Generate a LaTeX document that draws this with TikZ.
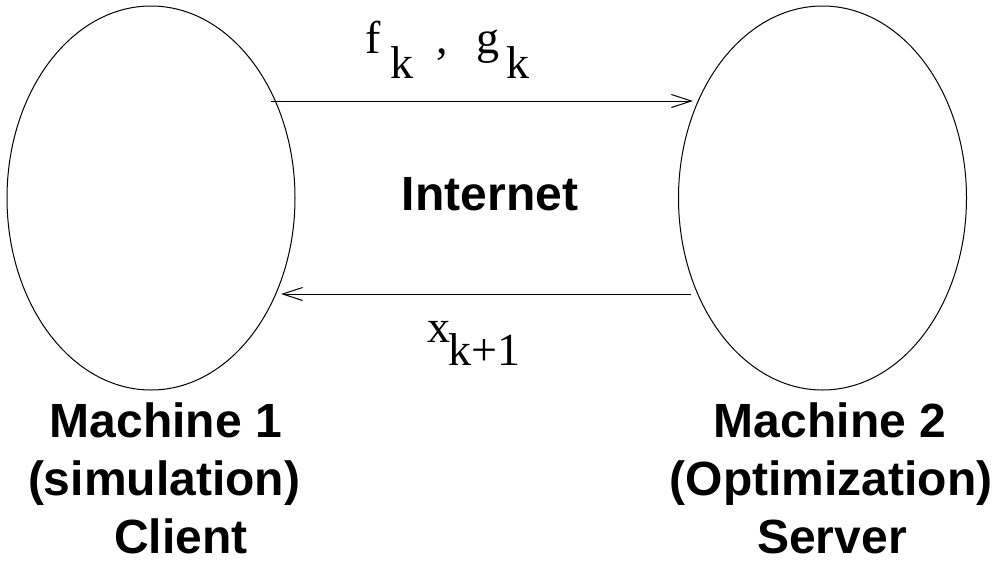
\documentclass[tikz,border=0pt]{standalone}
\usepackage{fontspec}
\setmainfont{Liberation Serif}
\setsansfont{Liberation Sans}
\usetikzlibrary{arrows.meta,shapes.geometric}
\begin{document}
\begin{tikzpicture}[x=1pt,y=-1pt,
  machine/.style={draw,ellipse,line width=1pt,minimum width=288pt,minimum height=384pt,inner sep=0pt},
  bigtxt/.style={font=\sffamily\bfseries\fontsize{48}{48}\selectfont,anchor=base,inner sep=0pt},
  mtxt/.style={font=\fontsize{46}{46}\selectfont,anchor=base west,inner sep=0pt},
  link/.style={line width=1pt,-{Straight Barb[length=20pt,width=13pt,line width=1pt]}}]
\useasboundingbox (0,0) rectangle (993,563);
\node[machine] (m1) at (151,198) {};
\node[machine] (m2) at (822.5,198) {};
\coordinate (a1s) at (271,101);
\coordinate (a1e) at (693,101);
\coordinate (a2s) at (691,294);
\coordinate (a2e) at (281,294);
\draw[link] (a1s) -- (a1e);
\draw[link] (a2s) -- (a2e);
% labels on top arrow
\node[mtxt] (f) at (365,53) {f};
\node[mtxt] (fk) at (390,78) {k};
\node[mtxt] (comma) at (436,53) {,};
\node[mtxt] (g) at (476,53) {g};
\node[mtxt] (gk) at (506,78) {k};
% label on bottom arrow
\node[mtxt] (x) at (427,342) {x};
\node[mtxt] (xk) at (448,365) {k+1};
\node[bigtxt] (net) at (490,210) {Internet};
\node[bigtxt] (l1) at (166,437) {Machine 1};
\node[bigtxt] (l2) at (164,495) {(simulation)};
\node[bigtxt] (l3) at (181,553) {Client};
\node[bigtxt] (r1) at (830,437) {Machine 2};
\node[bigtxt] (r2) at (831,495) {(Optimization)};
\node[bigtxt] (r3) at (832,553) {Server};
\end{tikzpicture}
\end{document}
